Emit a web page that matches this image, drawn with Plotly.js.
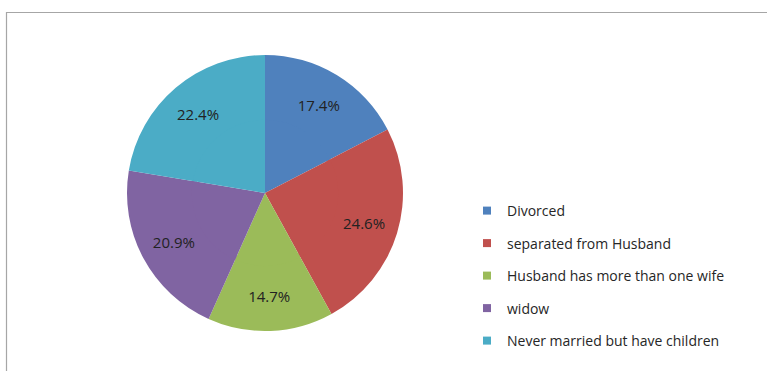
<!DOCTYPE html>
<html>
<head>
<meta charset="utf-8">
<script src="https://cdn.plot.ly/plotly-3.0.1.min.js"></script>
<style>html,body{margin:0;padding:0;background:#fff;}#chart{width:767px;height:371px;}</style>
</head>
<body>
<div id="chart"></div>
<script>
const categories = ["Divorced", "separated from Husband", "Husband has more than one wife", "widow", "Never married but have children"];
const shares = [17.4, 24.6, 14.7, 20.9, 22.4];
const sliceColors = ["#4F81BD", "#C0504D", "#9BBB59", "#8064A2", "#4BACC6"];

const W = 767, H = 371;
const cx = 265, cy = 193, r = 138;
const holeFrac = 0.5;
const innerR = r * 0.53;

function dom(rad) {
  return { x: [(cx - rad) / W, (cx + rad) / W], y: [1 - (cy + rad) / H, 1 - (cy - rad) / H] };
}

// outer ring carries the percentage labels
const outer = {
  type: "pie",
  labels: categories,
  values: shares,
  sort: false,
  direction: "clockwise",
  rotation: 0,
  hole: holeFrac,
  marker: { colors: sliceColors, line: { width: 0 } },
  texttemplate: "%{value:.1f}%",
  textposition: "inside",
  insidetextorientation: "horizontal",
  textfont: { family: "Open Sans", size: 15, color: "#222222" },
  showlegend: false,
  hoverinfo: "label+percent",
  domain: dom(r)
};

// inner disc fills the hole with the same slices
const inner = {
  type: "pie",
  labels: categories,
  values: shares,
  sort: false,
  direction: "clockwise",
  rotation: 0,
  marker: { colors: sliceColors, line: { width: 0 } },
  textinfo: "none",
  showlegend: false,
  hoverinfo: "label+percent",
  domain: dom(innerR)
};

// legend entries (one per category)
const legendTraces = categories.map((c, i) => ({
  type: "scatter",
  mode: "markers",
  x: [null], y: [null],
  name: c,
  legendgroup: "g" + i,
  marker: { symbol: "square", size: 8, color: sliceColors[i] },
  showlegend: true,
  hoverinfo: "skip"
}));

const layout = {
  width: W, height: H,
  margin: { l: 0, r: 0, t: 0, b: 0 },
  paper_bgcolor: "#ffffff",
  plot_bgcolor: "rgba(0,0,0,0)",
  xaxis: { visible: false },
  yaxis: { visible: false },
  showlegend: true,
  legend: {
    x: 467 / W, xanchor: "left",
    y: 1 - 195 / H, yanchor: "top",
    traceorder: "grouped",
    tracegroupgap: 11.3,
    font: { family: "Open Sans", size: 14, color: "#262626" },
    bgcolor: "rgba(0,0,0,0)"
  },
  shapes: [{
    type: "rect", xref: "paper", yref: "paper",
    x0: 6.5 / W, x1: 1.05, y0: -0.05, y1: 1 - 12.5 / H,
    line: { color: "#a6a6a6", width: 1.2 }, fillcolor: "rgba(0,0,0,0)"
  }]
};

Plotly.newPlot("chart", [outer, inner].concat(legendTraces), layout, { displayModeBar: false, staticPlot: true });
</script>
</body>
</html>
